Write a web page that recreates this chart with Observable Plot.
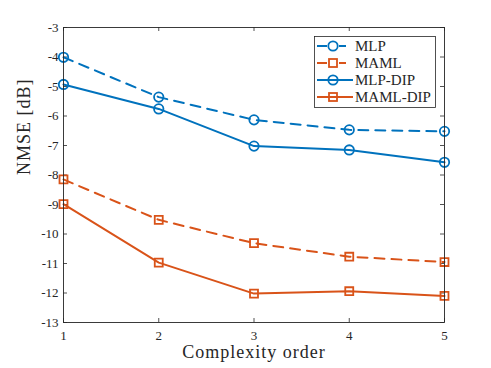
<!DOCTYPE html>
<html><head><meta charset="utf-8">
<script src="https://cdn.jsdelivr.net/npm/d3@7"></script>
<script src="https://cdn.jsdelivr.net/npm/@observablehq/plot@0.6"></script>
<style>
body{margin:0;background:#fff;}
#chart{position:relative;width:491px;height:368px;}
</style></head>
<body><div id="chart"></div>
<script>
const orders = [1, 2, 3, 4, 5];
const mlp = [-4.01, -5.36, -6.13, -6.47, -6.52];
const maml = [-8.15, -9.52, -10.31, -10.77, -10.95];
const mlpDip = [-4.93, -5.76, -7.02, -7.15, -7.57];
const mamlDip = [-8.99, -10.97, -12.02, -11.94, -12.10];
const yTicks = [-3, -4, -5, -6, -7, -8, -9, -10, -11, -12, -13];
const xTicks = [1, 2, 3, 4, 5];
const seriesNames = ["MLP", "MAML", "MLP-DIP", "MAML-DIP"];

const blue = "#0072BD", orange = "#D95319";
const styles = {
  "MLP": {color: blue, dash: "10,7", symbol: "circle"},
  "MAML": {color: orange, dash: "10,7", symbol: "square"},
  "MLP-DIP": {color: blue, dash: null, symbol: "circle"},
  "MAML-DIP": {color: orange, dash: null, symbol: "square"}
};
const seriesVals = [mlp, maml, mlpDip, mamlDip];
const rows = [];
seriesNames.forEach((s, i) => orders.forEach((o, j) => rows.push({series: s, x: o, y: seriesVals[i][j]})));

const W = 491, H = 368, mL = 63, mR = 47, mT = 27, mB = 46;
const pw = W - mL - mR, ph = H - mT - mB;
const font = "'Liberation Serif', serif";

const marks = [];
for (const s of seriesNames) {
  const st = styles[s];
  const d = rows.filter(r => r.series === s);
  marks.push(Plot.line(d, {x: "x", y: "y", stroke: st.color, strokeWidth: 2, strokeDasharray: st.dash}));
  marks.push(Plot.dot(d, {x: "x", y: "y", stroke: st.color, strokeWidth: 1.8, fill: "none", symbol: st.symbol, r: st.symbol === "circle" ? 4.7 : 4.5}));
}

const plot = Plot.plot({
  width: W, height: H,
  marginLeft: mL, marginRight: mR, marginTop: mT, marginBottom: mB,
  style: {fontFamily: font, background: "#fff", color: "#262626"},
  x: {domain: [1, 5], ticks: xTicks, tickFormat: d => String(d)},
  y: {domain: [-13, -3], ticks: yTicks, tickFormat: d => String(d)},
  marks: [
    Plot.axisX({ticks: xTicks, tickSize: 0, tickPadding: 8, fontSize: 13, label: null, tickFormat: d => String(d)}),
    Plot.axisY({ticks: yTicks, tickSize: 0, tickPadding: 5, fontSize: 13, label: null, tickFormat: d => String(d)}),
    Plot.tickY(yTicks, {y: d => d, stroke: "#262626", strokeWidth: 0.8, insetRight: pw - 4}),
    Plot.tickY(yTicks, {y: d => d, stroke: "#262626", strokeWidth: 0.8, insetLeft: pw - 4}),
    Plot.tickX(xTicks, {x: d => d, stroke: "#262626", strokeWidth: 0.8, insetTop: ph - 4}),
    Plot.tickX(xTicks, {x: d => d, stroke: "#262626", strokeWidth: 0.8, insetBottom: ph - 4}),
    ...marks,
    Plot.frame({stroke: "#262626", strokeWidth: 0.9}),
    Plot.text(["Complexity order"], {frameAnchor: "bottom", dy: 35, fontSize: 18, fill: "#262626"}),
    Plot.text(["NMSE [dB]"], {frameAnchor: "left", dx: -39, rotate: -90, fontSize: 18, fill: "#262626"})
  ]
});
document.getElementById("chart").appendChild(plot);

// spread the axis titles a little, like the original's wider serif
d3.select(plot).selectAll("text").filter(function() { return this.textContent === "Complexity order" || this.textContent === "NMSE [dB]"; })
  .attr("letter-spacing", "1px");

// Legend inside the plot
const svg = d3.select(plot);
const lg = svg.append("g").attr("font-family", font).attr("font-size", 15).attr("fill", "#262626").attr("text-anchor", "start");
lg.append("rect").attr("x", 314.5).attr("y", 36.5).attr("width", 121).attr("height", 71)
  .attr("fill", "#fff").attr("stroke", "#262626").attr("stroke-width", 0.8);
seriesNames.forEach((s, i) => {
  const st = styles[s];
  const y = 46 + i * 17;
  lg.append("line").attr("x1", 317).attr("x2", 353).attr("y1", y).attr("y2", y)
    .attr("stroke", st.color).attr("stroke-width", 2).attr("stroke-dasharray", st.dash ? "10,12,7,20" : null);
  if (st.symbol === "circle") {
    lg.append("circle").attr("cx", 333).attr("cy", y).attr("r", 4.7).attr("fill", "none").attr("stroke", st.color).attr("stroke-width", 1.8);
  } else {
    lg.append("rect").attr("x", 329).attr("y", y - 4).attr("width", 8).attr("height", 8).attr("fill", "none").attr("stroke", st.color).attr("stroke-width", 1.8);
  }
  lg.append("text").attr("x", 355).attr("y", y).attr("dy", "0.35em").attr("text-anchor", "start").text(s);
});
</script></body></html>
